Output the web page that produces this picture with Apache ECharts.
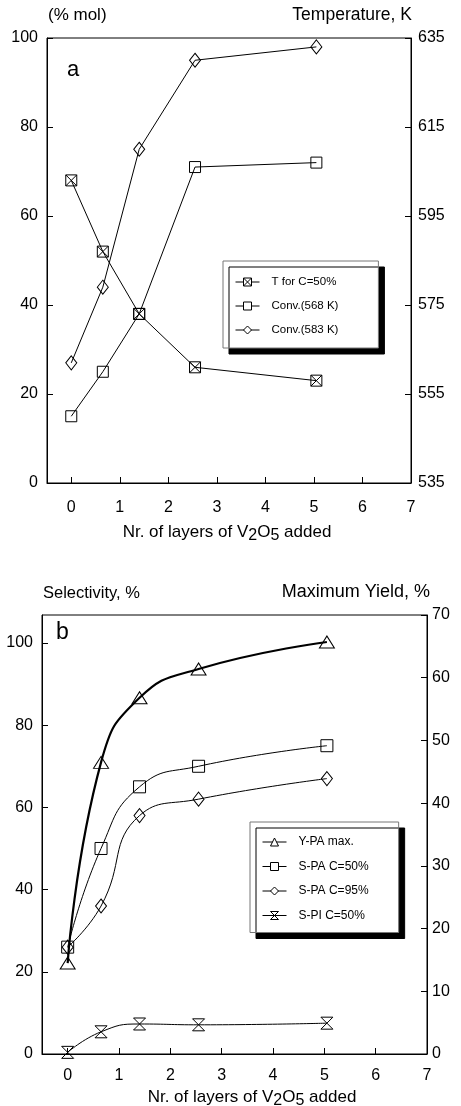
<!DOCTYPE html>
<html>
<head>
<meta charset="utf-8">
<title>V2O5 layers: conversion, temperature, selectivity and yield</title>
<script src="https://cdn.jsdelivr.net/npm/echarts@6/dist/echarts.min.js"></script>
<style>
  html, body { margin: 0; padding: 0; background: #fff; }
  #chart { width: 461px; height: 1106px; }
</style>
</head>
<body>
<div id="chart"></div>
<script>
// Number of V2O5 layers added (shared by both panels)
const layers = [0, 0.65, 1.4, 2.55, 5.05];

// Panel a
const tempAtC50 = [603, 587, 573, 561, 558];   // K, right axis
const conv568 = [15, 25, 38, 71, 72];          // % mol
const conv583 = [27, 44, 75, 95, 98];          // % mol

// Panel b
const yieldPaMax = [14.5, 46.5, 56.8, 61.4, 65.7]; // %, right axis
const selPaC50 = [26, 50, 65, 70, 75];             // %
const selPaC95 = [26, 36, 58, 62, 67];             // %
const selPiC50 = [0.4, 5.4, 7.3, 7.1, 7.5];        // %

// Tick labels
const layerTicks = [0, 1, 2, 3, 4, 5, 6, 7];
const molTicks = [0, 20, 40, 60, 80, 100];
const tempTicks = [535, 555, 575, 595, 615, 635];
const selTicks = [0, 20, 40, 60, 80, 100];
const yieldTicks = [0, 10, 20, 30, 40, 50, 60, 70];

const FONT = '"Liberation Sans", Arial, Helvetica, sans-serif';
const INK = '#000';

const pairs = ys => layers.map((x, i) => [x, ys[i]]);

const crossedSquare = 'path://M0,0L10,0L10,10L0,10Z M0,0L10,10 M10,0L0,10';
const hourglass = 'path://M0,0L10,0L0,10L10,10Z';

function xAxisFor(gridIndex, labelMargin) {
  return {
    type: 'value', gridIndex: gridIndex, min: -0.5, max: 7,
    axisLine: { show: true, onZero: false, lineStyle: { color: INK, width: 1 } },
    axisTick: { show: true, inside: true, length: 6, customValues: layerTicks, lineStyle: { color: INK } },
    axisLabel: { customValues: layerTicks, margin: labelMargin, color: INK, fontSize: 16, fontFamily: FONT },
    splitLine: { show: false }
  };
}

function yAxisFor(gridIndex, pos, min, max, interval, ticks, margin) {
  return {
    type: 'value', gridIndex: gridIndex, position: pos, min: min, max: max, interval: interval,
    axisLine: { show: true, onZero: false, lineStyle: { color: INK, width: 1 } },
    axisTick: { show: true, inside: true, length: 6, customValues: ticks, lineStyle: { color: INK } },
    axisLabel: { customValues: ticks, margin: margin, color: INK, fontSize: 16, fontFamily: FONT },
    splitLine: { show: false }
  };
}

const hollow = { color: 'rgba(255,255,255,0)', borderColor: INK, borderWidth: 1 };
const thin = { color: INK, width: 1 };

function legendFor(names, left, top, padding, gap, fontSize) {
  return {
    orient: 'vertical', left: left, top: top, data: names,
    itemWidth: 24, itemHeight: 10, itemGap: gap,
    padding: padding,
    backgroundColor: '#fff', borderColor: '#777', borderWidth: 1,
    shadowColor: '#000', shadowBlur: 0, shadowOffsetX: 6, shadowOffsetY: 6,
    selectedMode: false,
    itemStyle: { color: '#fff', borderColor: INK, borderWidth: 1 },
    lineStyle: { color: INK, width: 1 },
    textStyle: { fontSize: fontSize, color: INK, fontFamily: FONT, padding: [0, 0, 0, 7] }
  };
}

const chart = echarts.init(document.getElementById('chart'), null, { renderer: 'canvas' });

chart.setOption({
  animation: false,
  backgroundColor: '#fff',
  grid: [
    { left: 47, right: 50, top: 38, height: 445, show: true, borderColor: INK, borderWidth: 1, containLabel: false },
    { left: 42, right: 34, top: 615, height: 439, show: true, borderColor: INK, borderWidth: 1, containLabel: false }
  ],
  xAxis: [xAxisFor(0, 17), xAxisFor(1, 14)],
  yAxis: [
    yAxisFor(0, 'left', 0, 100, 20, molTicks, 9),
    yAxisFor(0, 'right', 535, 635, 20, tempTicks, 7),
    yAxisFor(1, 'left', 0, 106.8, 20, selTicks, 9),
    yAxisFor(1, 'right', 0, 70, 10, yieldTicks, 5)
  ],
  legend: [
    legendFor(['T for C=50%', 'Conv.(568 K)', 'Conv.(583 K)'], 223, 261, [15, 40, 12, 12], 12, 11.5),
    legendFor(['Y-PA max.', 'S-PA C=50%', 'S-PA C=95%', 'S-PI C=50%'], 250, 822, [14, 30, 11, 12], 12.5, 12)
  ],
  series: [
    {
      name: 'T for C=50%', type: 'line', xAxisIndex: 0, yAxisIndex: 1,
      data: pairs(tempAtC50), symbol: crossedSquare, symbolSize: 11,
      lineStyle: thin, itemStyle: hollow
    },
    {
      name: 'Conv.(568 K)', type: 'line', xAxisIndex: 0, yAxisIndex: 0,
      data: pairs(conv568), symbol: 'rect', symbolSize: 11,
      lineStyle: thin, itemStyle: hollow
    },
    {
      name: 'Conv.(583 K)', type: 'line', xAxisIndex: 0, yAxisIndex: 0,
      data: pairs(conv583), symbol: 'diamond', symbolSize: [11, 14],
      lineStyle: thin, itemStyle: hollow
    },
    {
      name: 'Y-PA max.', type: 'line', xAxisIndex: 1, yAxisIndex: 3,
      data: pairs(yieldPaMax), symbol: 'triangle', symbolSize: [15, 12],
      smooth: 0.5, lineStyle: { color: INK, width: 2.2 }, itemStyle: hollow
    },
    {
      name: 'S-PA C=50%', type: 'line', xAxisIndex: 1, yAxisIndex: 2,
      data: pairs(selPaC50), symbol: 'rect', symbolSize: 12,
      smooth: 0.5, lineStyle: thin, itemStyle: hollow
    },
    {
      name: 'S-PA C=95%', type: 'line', xAxisIndex: 1, yAxisIndex: 2,
      data: pairs(selPaC95), symbol: 'diamond', symbolSize: [11, 14],
      smooth: 0.5, lineStyle: thin, itemStyle: hollow
    },
    {
      name: 'S-PI C=50%', type: 'line', xAxisIndex: 1, yAxisIndex: 2,
      data: pairs(selPiC50), symbol: hourglass, symbolSize: 12,
      smooth: 0.5, lineStyle: thin, itemStyle: hollow
    }
  ],
  graphic: [
    { type: 'text', x: 48, y: 15, style: { text: '(% mol)', font: '17px ' + FONT, fill: INK, align: 'left', verticalAlign: 'middle' } },
    { type: 'text', x: 412, y: 15, style: { text: 'Temperature, K', font: '17.5px ' + FONT, fill: INK, align: 'right', verticalAlign: 'middle' } },
    { type: 'text', x: 67, y: 70, style: { text: 'a', font: '22px ' + FONT, fill: INK, align: 'left', verticalAlign: 'middle' } },
    {
      type: 'text', x: 227, y: 532,
      style: {
        text: 'Nr. of layers of V{s|2}O{s|5} added', font: '17px ' + FONT, fill: INK,
        align: 'center', verticalAlign: 'middle',
        rich: { s: { fontSize: 16, fontFamily: FONT, fill: INK, padding: [8, 0, 0, 0] } }
      }
    },
    { type: 'text', x: 43, y: 593, style: { text: 'Selectivity, %', font: '16.5px ' + FONT, fill: INK, align: 'left', verticalAlign: 'middle' } },
    { type: 'text', x: 430, y: 592, style: { text: 'Maximum Yield, %', font: '18px ' + FONT, fill: INK, align: 'right', verticalAlign: 'middle' } },
    { type: 'text', x: 56, y: 633, style: { text: 'b', font: '23px ' + FONT, fill: INK, align: 'left', verticalAlign: 'middle' } },
    {
      type: 'text', x: 252, y: 1097,
      style: {
        text: 'Nr. of layers of V{s|2}O{s|5} added', font: '17px ' + FONT, fill: INK,
        align: 'center', verticalAlign: 'middle',
        rich: { s: { fontSize: 16, fontFamily: FONT, fill: INK, padding: [8, 0, 0, 0] } }
      }
    }
  ]
});
</script>
</body>
</html>
